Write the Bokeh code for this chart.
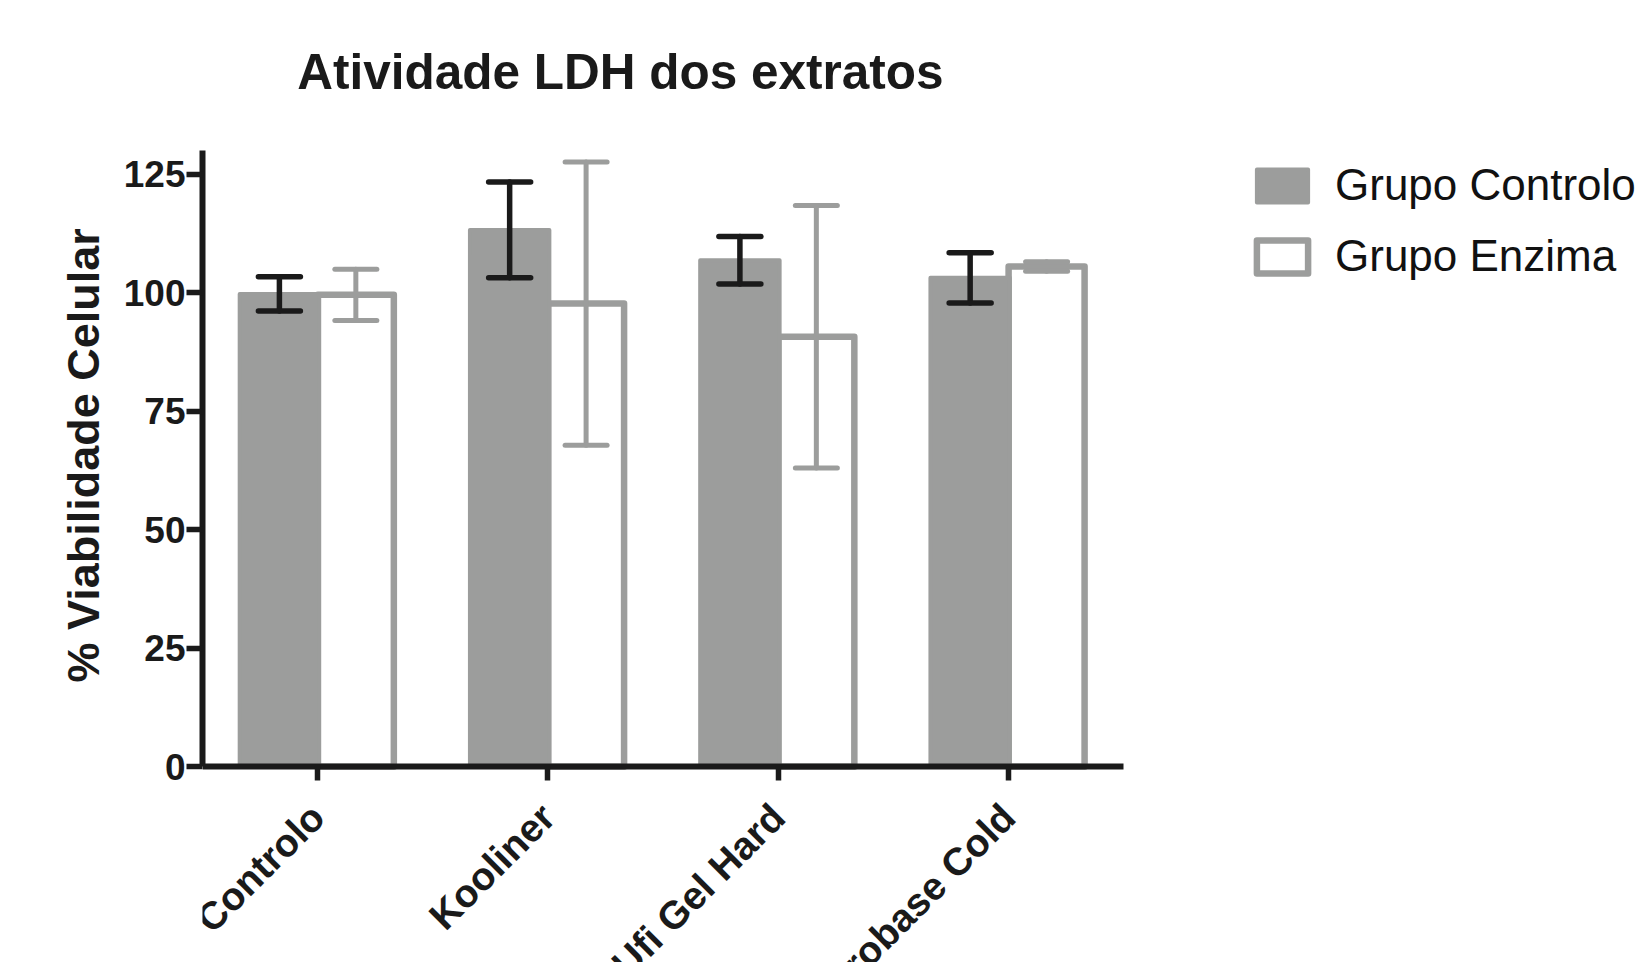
import math
from bokeh.plotting import figure
from bokeh.models import (ColumnDataSource, Range1d, FixedTicker, Whisker, TeeHead,
                          Legend, LegendItem, Label, LinearAxis, Title)
from bokeh.core.properties import value
from bokeh.embed import file_html
from bokeh.resources import INLINE

# ---- data ----
title_text = "Atividade LDH dos extratos"
y_label = "% Viabilidade Celular"
categories = ["Controlo", "Kooliner", "Ufi Gel Hard", "Probase Cold"]
series_names = ["Grupo Controlo", "Grupo Enzima"]
controlo_mean = [99.8, 113.3, 106.9, 103.2]
controlo_err = [3.6, 10.1, 5.0, 5.3]
enzima_mean = [99.6, 97.75, 90.75, 105.6]
enzima_err = [5.4, 29.9, 27.7, 1.0]
y_ticks = [0, 25, 50, 75, 100, 125]

FONT = "Liberation Sans"
GREY = "#9c9d9c"
BLACK = "#1a1a1a"
DODGE = 0.166

cat_x = [i + 0.5 for i in range(len(categories))]
src = ColumnDataSource(dict(
    cat=categories,
    cx=cat_x,
    gx=[x - DODGE for x in cat_x],
    wx=[x + DODGE for x in cat_x],
    c_mean=controlo_mean,
    c_up=[m + e for m, e in zip(controlo_mean, controlo_err)],
    c_lo=[m - e for m, e in zip(controlo_mean, controlo_err)],
    e_mean=enzima_mean,
    e_up=[m + e for m, e in zip(enzima_mean, enzima_err)],
    e_lo=[m - e for m, e in zip(enzima_mean, enzima_err)],
))

# geometry of the frame (screen px)
LEFT = 202
FRAME_W, FRAME_H = 1438, 962
PX_PER_CAT = 921 / 4.0
PX_PER_UNIT = 616 / 130.0
Y_TOP = 130 + 150.3 / PX_PER_UNIT
Y_BOT = Y_TOP - FRAME_H / PX_PER_UNIT

p = figure(frame_width=FRAME_W, frame_height=FRAME_H,
           x_range=Range1d(0, FRAME_W / PX_PER_CAT),
           y_range=Range1d(Y_BOT, Y_TOP),
           x_axis_location=None,
           output_backend="svg", toolbar_location=None,
           min_border_left=LEFT, min_border_right=0,
           min_border_top=0, min_border_bottom=0)
p.xgrid.visible = False
p.ygrid.visible = False
p.outline_line_color = None
p.background_fill_color = "white"
p.border_fill_color = "white"

r_enz = p.vbar(x="wx", top="e_mean", width=0.33, source=src,
               fill_color="white", line_color=GREY, line_width=6.5, line_join="round")
r_ctrl = p.vbar(x="gx", top="c_mean", width=0.345, source=src,
                fill_color=GREY, line_color=GREY, line_width=4, line_join="round")

def head(color, lw):
    return TeeHead(size=42, line_color=color, line_width=lw, line_cap="round")

w_e = Whisker(base="wx", upper="e_up", lower="e_lo", source=src, level="annotation",
              line_color=GREY, line_width=5, line_cap="round",
              upper_head=head(GREY, 5), lower_head=head(GREY, 5))
w_c = Whisker(base="gx", upper="c_up", lower="c_lo", source=src, level="annotation",
              line_color=BLACK, line_width=5.5, line_cap="round",
              upper_head=head(BLACK, 5.5), lower_head=head(BLACK, 5.5))
p.add_layout(w_e)
p.add_layout(w_c)

# y axis
ya = p.yaxis[0]
ya.bounds = (0, 130)
ya.ticker = FixedTicker(ticks=y_ticks)
ya.axis_line_width = 6
ya.axis_line_color = BLACK
ya.major_tick_line_color = BLACK
ya.major_tick_line_width = 5.5
ya.major_tick_in = 0
ya.major_tick_out = 16
ya.minor_tick_line_color = None
ya.major_label_standoff = 1
ya.major_label_text_font = FONT
ya.major_label_text_font_style = "bold"
ya.major_label_text_font_size = "37px"
ya.major_label_text_color = BLACK

# y axis title (rotated), placed in the left panel
p.add_layout(Title(text=y_label, align="left", offset=280, vertical_align="bottom",
                   standoff=23, text_font=FONT, text_font_style="bold",
                   text_font_size="45px", text_color=BLACK), "left")

# x axis drawn at y = 0
xa = LinearAxis(fixed_location=0, bounds=(0, len(categories)),
                ticker=FixedTicker(ticks=cat_x),
                major_label_overrides={x: "" for x in cat_x},
                major_label_standoff=0, major_label_text_font_size="1px",
                axis_line_width=6, axis_line_color=BLACK,
                major_tick_line_color=BLACK, major_tick_line_width=5.5,
                major_tick_in=-14, major_tick_out=0,
                minor_tick_line_color=None)
p.add_layout(xa, "below")

# category labels (rotated)
p.text(x="cx", y=-9.22, text="cat", source=src, angle=math.pi / 4,
       text_align="right", text_baseline="middle",
       text_font=value(FONT), text_font_style="bold", text_font_size="39px",
       text_color=BLACK)

# chart title
p.add_layout(Label(x=1.815, y=146.63, text=title_text, text_align="center",
                   text_baseline="alphabetic", text_font=FONT, text_font_style="bold",
                   text_font_size="49.5px", text_color=BLACK))

legend = Legend(items=[LegendItem(label=series_names[0], renderers=[r_ctrl]),
                       LegendItem(label=series_names[1], renderers=[r_enz])],
                location=(1048, 681), orientation="vertical",
                glyph_width=64, glyph_height=41, label_standoff=21, spacing=21,
                padding=0, margin=0, border_line_color=None,
                background_fill_alpha=0,
                label_text_font=FONT, label_text_font_size="44px",
                label_text_color="#111111")
p.add_layout(legend)

open("out.html", "w").write(file_html(p, INLINE))
